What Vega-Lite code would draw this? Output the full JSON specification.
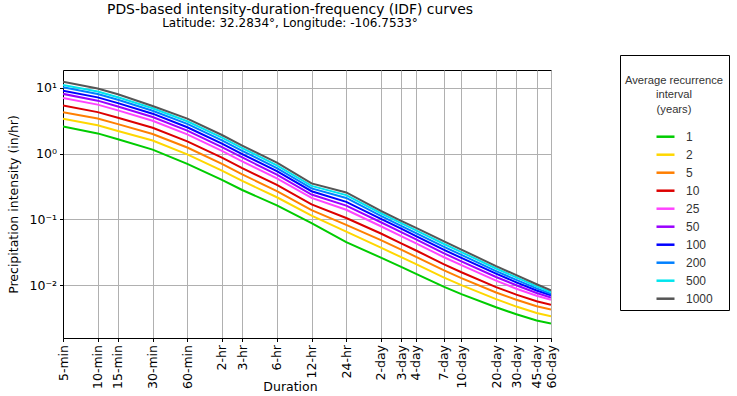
{
"$schema": "https://vega.github.io/schema/vega-lite/v6.json",
"width": 488, "height": 268,
"autosize": "none",
"padding": {"left": 63, "top": 70, "right": 186, "bottom": 58},
"background": "white",
"title": {"text": "PDS-based intensity-duration-frequency (IDF) curves", "subtitle": "Latitude: 32.2834°, Longitude: -106.7533°", "font": "DejaVu Sans", "fontSize": 13.9, "fontWeight": "normal", "color": "black", "subtitleFont": "DejaVu Sans", "subtitleFontSize": 12, "subtitleColor": "black", "anchor": "middle", "dx": -17, "offset": 25, "subtitlePadding": 2},
"data": {"values": [
{"d":5,"r":"1","v":2.59},{"d":5,"r":"2","v":3.39},{"d":5,"r":"5","v":4.27},{"d":5,"r":"10","v":5.39},{"d":5,"r":"25","v":7.04},{"d":5,"r":"50","v":8.11},{"d":5,"r":"100","v":9.07},{"d":5,"r":"200","v":10.2},{"d":5,"r":"500","v":11.1},{"d":5,"r":"1000","v":12.4},
{"d":10,"r":"1","v":2.03},{"d":10,"r":"2","v":2.70},{"d":10,"r":"5","v":3.41},{"d":10,"r":"10","v":4.28},{"d":10,"r":"25","v":5.56},{"d":10,"r":"50","v":6.39},{"d":10,"r":"100","v":7.17},{"d":10,"r":"200","v":8.06},{"d":10,"r":"500","v":8.81},{"d":10,"r":"1000","v":9.78},
{"d":15,"r":"1","v":1.65},{"d":15,"r":"2","v":2.21},{"d":15,"r":"5","v":2.81},{"d":15,"r":"10","v":3.51},{"d":15,"r":"25","v":4.55},{"d":15,"r":"50","v":5.21},{"d":15,"r":"100","v":5.87},{"d":15,"r":"200","v":6.58},{"d":15,"r":"500","v":7.21},{"d":15,"r":"1000","v":7.99},
{"d":30,"r":"1","v":1.15},{"d":30,"r":"2","v":1.58},{"d":30,"r":"5","v":1.99},{"d":30,"r":"10","v":2.47},{"d":30,"r":"25","v":3.16},{"d":30,"r":"50","v":3.61},{"d":30,"r":"100","v":4.05},{"d":30,"r":"200","v":4.49},{"d":30,"r":"500","v":4.89},{"d":30,"r":"1000","v":5.29},
{"d":60,"r":"1","v":0.70},{"d":60,"r":"2","v":0.973},{"d":60,"r":"5","v":1.24},{"d":60,"r":"10","v":1.54},{"d":60,"r":"25","v":1.96},{"d":60,"r":"50","v":2.24},{"d":60,"r":"100","v":2.52},{"d":60,"r":"200","v":2.83},{"d":60,"r":"500","v":3.11},{"d":60,"r":"1000","v":3.41},
{"d":120,"r":"1","v":0.40},{"d":120,"r":"2","v":0.552},{"d":120,"r":"5","v":0.70},{"d":120,"r":"10","v":0.868},{"d":120,"r":"25","v":1.10},{"d":120,"r":"50","v":1.26},{"d":120,"r":"100","v":1.42},{"d":120,"r":"200","v":1.59},{"d":120,"r":"500","v":1.75},{"d":120,"r":"1000","v":1.92},
{"d":180,"r":"1","v":0.28},{"d":180,"r":"2","v":0.384},{"d":180,"r":"5","v":0.484},{"d":180,"r":"10","v":0.602},{"d":180,"r":"25","v":0.764},{"d":180,"r":"50","v":0.874},{"d":180,"r":"100","v":0.986},{"d":180,"r":"200","v":1.10},{"d":180,"r":"500","v":1.21},{"d":180,"r":"1000","v":1.32},
{"d":360,"r":"1","v":0.163},{"d":360,"r":"2","v":0.217},{"d":360,"r":"5","v":0.269},{"d":360,"r":"10","v":0.334},{"d":360,"r":"25","v":0.421},{"d":360,"r":"50","v":0.481},{"d":360,"r":"100","v":0.541},{"d":360,"r":"200","v":0.603},{"d":360,"r":"500","v":0.665},{"d":360,"r":"1000","v":0.730},
{"d":720,"r":"1","v":0.088},{"d":720,"r":"2","v":0.114},{"d":720,"r":"5","v":0.138},{"d":720,"r":"10","v":0.169},{"d":720,"r":"25","v":0.212},{"d":720,"r":"50","v":0.239},{"d":720,"r":"100","v":0.268},{"d":720,"r":"200","v":0.296},{"d":720,"r":"500","v":0.323},{"d":720,"r":"1000","v":0.352},
{"d":1440,"r":"1","v":0.045},{"d":1440,"r":"2","v":0.0653},{"d":1440,"r":"5","v":0.0824},{"d":1440,"r":"10","v":0.105},{"d":1440,"r":"25","v":0.140},{"d":1440,"r":"50","v":0.162},{"d":1440,"r":"100","v":0.185},{"d":1440,"r":"200","v":0.212},{"d":1440,"r":"500","v":0.234},{"d":1440,"r":"1000","v":0.257},
{"d":2880,"r":"1","v":0.0262},{"d":2880,"r":"2","v":0.0372},{"d":2880,"r":"5","v":0.0485},{"d":2880,"r":"10","v":0.0610},{"d":2880,"r":"25","v":0.0786},{"d":2880,"r":"50","v":0.0904},{"d":2880,"r":"100","v":0.102},{"d":2880,"r":"200","v":0.113},{"d":2880,"r":"500","v":0.124},{"d":2880,"r":"1000","v":0.135},
{"d":4320,"r":"1","v":0.019},{"d":4320,"r":"2","v":0.0266},{"d":4320,"r":"5","v":0.0346},{"d":4320,"r":"10","v":0.0433},{"d":4320,"r":"25","v":0.0557},{"d":4320,"r":"50","v":0.0640},{"d":4320,"r":"100","v":0.0722},{"d":4320,"r":"200","v":0.0798},{"d":4320,"r":"500","v":0.0878},{"d":4320,"r":"1000","v":0.095},
{"d":5760,"r":"1","v":0.015},{"d":5760,"r":"2","v":0.021},{"d":5760,"r":"5","v":0.0272},{"d":5760,"r":"10","v":0.0339},{"d":5760,"r":"25","v":0.0435},{"d":5760,"r":"50","v":0.050},{"d":5760,"r":"100","v":0.0563},{"d":5760,"r":"200","v":0.0623},{"d":5760,"r":"500","v":0.0687},{"d":5760,"r":"1000","v":0.075},
{"d":10080,"r":"1","v":0.0095},{"d":10080,"r":"2","v":0.0131},{"d":10080,"r":"5","v":0.0169},{"d":10080,"r":"10","v":0.0209},{"d":10080,"r":"25","v":0.0268},{"d":10080,"r":"50","v":0.0307},{"d":10080,"r":"100","v":0.0347},{"d":10080,"r":"200","v":0.0385},{"d":10080,"r":"500","v":0.0426},{"d":10080,"r":"1000","v":0.0466},
{"d":14400,"r":"1","v":0.0073},{"d":14400,"r":"2","v":0.0100},{"d":14400,"r":"5","v":0.0128},{"d":14400,"r":"10","v":0.0157},{"d":14400,"r":"25","v":0.0201},{"d":14400,"r":"50","v":0.0230},{"d":14400,"r":"100","v":0.0259},{"d":14400,"r":"200","v":0.0288},{"d":14400,"r":"500","v":0.0318},{"d":14400,"r":"1000","v":0.0347},
{"d":28800,"r":"1","v":0.0046},{"d":28800,"r":"2","v":0.00612},{"d":28800,"r":"5","v":0.00773},{"d":28800,"r":"10","v":0.00934},{"d":28800,"r":"25","v":0.0117},{"d":28800,"r":"50","v":0.0133},{"d":28800,"r":"100","v":0.0150},{"d":28800,"r":"200","v":0.0163},{"d":28800,"r":"500","v":0.0179},{"d":28800,"r":"1000","v":0.0195},
{"d":43200,"r":"1","v":0.0036},{"d":43200,"r":"2","v":0.00472},{"d":43200,"r":"5","v":0.00598},{"d":43200,"r":"10","v":0.00716},{"d":43200,"r":"25","v":0.00882},{"d":43200,"r":"50","v":0.00997},{"d":43200,"r":"100","v":0.0110},{"d":43200,"r":"200","v":0.0120},{"d":43200,"r":"500","v":0.0131},{"d":43200,"r":"1000","v":0.0142},
{"d":64800,"r":"1","v":0.0029},{"d":64800,"r":"2","v":0.00377},{"d":64800,"r":"5","v":0.00476},{"d":64800,"r":"10","v":0.00568},{"d":64800,"r":"25","v":0.0069},{"d":64800,"r":"50","v":0.0076},{"d":64800,"r":"100","v":0.00829},{"d":64800,"r":"200","v":0.00893},{"d":64800,"r":"500","v":0.00957},{"d":64800,"r":"1000","v":0.0103},
{"d":86400,"r":"1","v":0.0026},{"d":86400,"r":"2","v":0.00335},{"d":86400,"r":"5","v":0.00424},{"d":86400,"r":"10","v":0.00504},{"d":86400,"r":"25","v":0.0060},{"d":86400,"r":"50","v":0.0065},{"d":86400,"r":"100","v":0.0070},{"d":86400,"r":"200","v":0.0074},{"d":86400,"r":"500","v":0.00785},{"d":86400,"r":"1000","v":0.0083}
]},
"mark": {"type": "line", "strokeWidth": 2, "clip": true},
"encoding": {
  "x": {"field": "d", "type": "quantitative",
    "scale": {"type": "log", "domain": [5, 86400], "nice": false},
    "axis": {"values": [5,10,15,30,60,120,180,360,720,1440,2880,4320,5760,10080,14400,28800,43200,64800,86400],
      "labelExpr": "['5-min','10-min','15-min','30-min','60-min','2-hr','3-hr','6-hr','12-hr','24-hr','2-day','3-day','4-day','7-day','10-day','20-day','30-day','45-day','60-day'][indexof([5,10,15,30,60,120,180,360,720,1440,2880,4320,5760,10080,14400,28800,43200,64800,86400], datum.value)]",
      "labelAngle": -90, "labelAlign": "right", "labelBaseline": "middle", "labelOverlap": false, "labelFlush": false,
      "title": "Duration", "titleX": 227, "titleY": 48, "titleBaseline": "middle"}},
  "y": {"field": "v", "type": "quantitative",
    "scale": {"type": "log", "domain": [0.00157, 18.7], "nice": false},
    "axis": {"values": [0.01, 0.1, 1, 10],
      "labelExpr": "datum.value > 5 ? '10¹' : datum.value > 0.5 ? '10⁰' : datum.value > 0.05 ? '10⁻¹' : '10⁻²'",
      "title": "Precipitation intensity (in/hr)", "titlePadding": 8}},
  "color": {"field": "r", "type": "nominal",
    "scale": {"domain": ["1","2","5","10","25","50","100","200","500","1000"],
      "range": ["#00cc00","#ffd700","#ff7f00","#dd0000","#ff44ff","#9900ff","#0000ff","#0080ff","#00e5ee","#555555"]},
    "legend": {"orient": "none", "legendX": 557, "legendY": -15,
      "title": ["", "Average recurrence", "interval", "(years)"]}}
},
"config": {
  "view": {"stroke": "black", "strokeWidth": 1},
  "axis": {"labelFont": "DejaVu Sans", "labelFontSize": 12.5, "labelColor": "black", "titleFont": "DejaVu Sans", "titleFontSize": 12.5, "titleFontWeight": "normal", "titleColor": "black",
    "domainColor": "black", "tickColor": "black", "tickSize": 3.5, "labelPadding": 3, "grid": true, "gridColor": "#b0b0b0", "gridWidth": 1},
  "legend": {"titleFont": "Liberation Sans", "titleFontSize": 11.2, "titleFontWeight": "normal", "titleColor": "#333", "titleAlign": "center", "titleAnchor": "middle", "titleLineHeight": 14.5, "titlePadding": 11.5,
    "labelFont": "Liberation Sans", "labelFontSize": 12, "labelColor": "#333", "labelOffset": 10,
    "symbolType": "stroke", "symbolSize": 324, "symbolStrokeWidth": 2.5, "symbolOffset": 20, "rowPadding": 1,
    "strokeColor": "black", "padding": 5}
}
}
